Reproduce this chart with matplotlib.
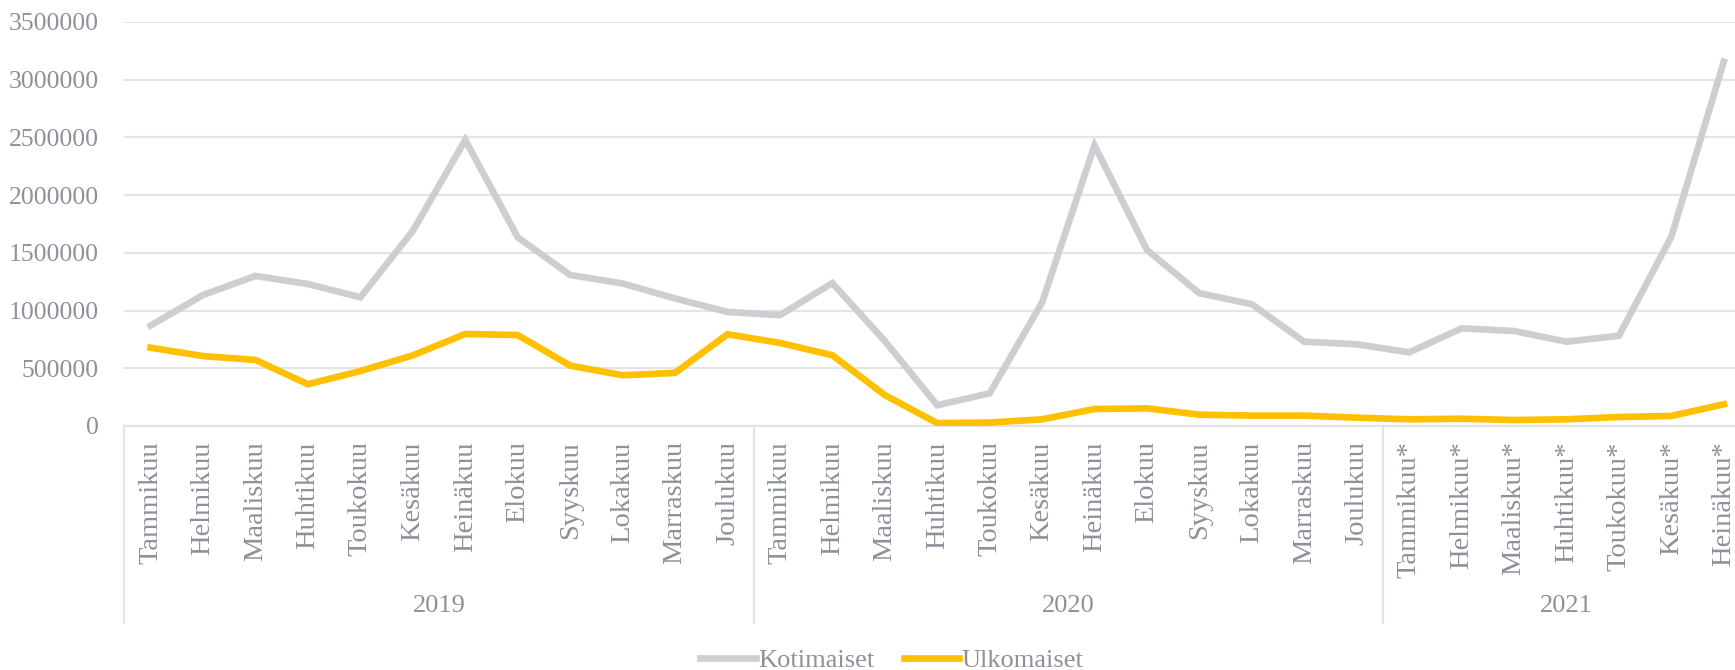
import matplotlib
matplotlib.use("Agg")
import matplotlib.pyplot as plt
import matplotlib.transforms as mtransforms
from matplotlib.lines import Line2D

months = ["Tammikuu", "Helmikuu", "Maaliskuu", "Huhtikuu", "Toukokuu", "Kesäkuu",
          "Heinäkuu", "Elokuu", "Syyskuu", "Lokakuu", "Marraskuu", "Joulukuu"]
labels_2019 = months
labels_2020 = months
labels_2021 = [m + "*" for m in months[:7]]
month_labels = labels_2019 + labels_2020 + labels_2021
years = ["2019", "2020", "2021"]
year_sizes = [12, 12, 7]

kotimaiset = [870000, 1135000, 1300000, 1230000, 1115000, 1690000, 2478000, 1635000,
              1308000, 1235000, 1105000, 988000,
              960000, 1238000, 737000, 180000, 283000, 1070000, 2430000, 1525000,
              1150000, 1055000, 730000, 708000,
              638000, 846000, 823000, 730000, 782000, 1640000, 3156000]
ulkomaiset = [678000, 606000, 572000, 362000, 476000, 612000, 797000, 788000,
              523000, 440000, 460000, 795000,
              720000, 613000, 268000, 25000, 30000, 58000, 147000, 153000,
              98000, 90000, 90000, 72000,
              58000, 63000, 52000, 58000, 78000, 87000, 188000]
series_names = ["Kotimaiset", "Ulkomaiset"]
yticks = [0, 500000, 1000000, 1500000, 2000000, 2500000, 3000000, 3500000]

FONT = ["Liberation Serif", "DejaVu Serif"]
TXT = "#8E909A"
GRID = "#E4E4E6"

plt.rcParams["font.family"] = FONT

W, H = 1735, 670
fig = plt.figure(figsize=(W / 100, H / 100), dpi=100)
left = 124.4 / W
right = 1750 / W
bottom = 1 - 426 / H
top = 1 - 22 / H
ax = fig.add_axes([left, bottom, right - left, top - bottom])

x = list(range(len(month_labels)))
ax.plot(x, kotimaiset, color="#CDCED2", lw=4.8, solid_joinstyle="miter", label=series_names[0], zorder=3)
ax.plot(x, ulkomaiset, color="#FFC000", lw=4.8, solid_joinstyle="miter", label=series_names[1], zorder=4)

ax.set_xlim(-0.5, len(month_labels) - 0.5)
ax.set_ylim(0, 3500000)
ax.set_yticks(yticks)
ax.set_yticklabels([str(v) for v in yticks])
ax.grid(axis="y", color=GRID, lw=1.6)
ax.set_axisbelow(True)
for s in ["left", "right", "top"]:
    ax.spines[s].set_visible(False)
ax.spines["bottom"].set_color(GRID)
ax.spines["bottom"].set_linewidth(1.6)
ax.tick_params(axis="y", length=0, pad=18.5, labelsize=18.5, labelcolor=TXT)
ax.set_xticks(x)
ax.set_xticklabels(month_labels, rotation=90)
ax.tick_params(axis="x", length=0, pad=11, labelsize=20.5, labelcolor=TXT)

# group separators and year labels
trans = mtransforms.blended_transform_factory(ax.transData, fig.transFigure)
y_axis = 1 - 426 / H
y_low = 1 - 623 / H
start = -0.5
for yr, n in zip(years, year_sizes):
    ax.add_line(Line2D([start, start], [y_axis, y_low], transform=trans, color=GRID,
                       lw=1.6, clip_on=False))
    ax.text(start + n / 2, 1 - 606 / H, yr, transform=trans, ha="center", va="center",
            fontsize=19, color=TXT)
    start += n
ax.add_line(Line2D([start, start], [y_axis, y_low], transform=trans, color=GRID,
                   lw=1.6, clip_on=False))

fig.legend(loc="center", bbox_to_anchor=(892 / W, 1 - 660 / H), ncol=2, frameon=False,
           fontsize=19, labelcolor=TXT, handlelength=2.1, handletextpad=0.1,
           columnspacing=1.1)

fig.savefig("out.png", dpi=100)
